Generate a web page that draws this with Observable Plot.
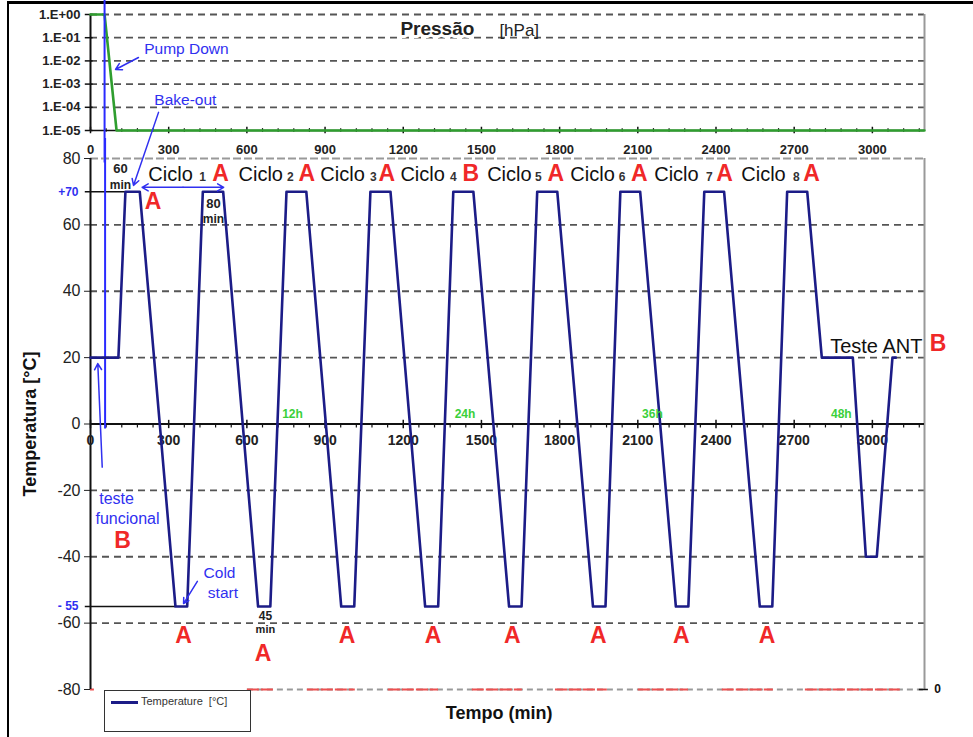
<!DOCTYPE html>
<html><head><meta charset="utf-8">
<script src="https://cdn.jsdelivr.net/npm/d3@7"></script>
<script src="https://cdn.jsdelivr.net/npm/@observablehq/plot@0.6"></script>
<style>
body{margin:0;background:#fff;font-family:"Liberation Sans",Arial,sans-serif;}
#wrap{position:relative;width:973px;height:737px;overflow:hidden;background:#fff;}
#frame{position:absolute;left:7px;top:1px;width:990px;height:780px;border-left:2px solid #000;border-top:3px solid #000;}
#legend{position:absolute;left:104px;top:690px;width:145px;height:40px;border:1.5px solid #333;background:#fff;}
#legend .ln{position:absolute;left:6px;top:10px;width:27px;height:2.5px;background:#1c1c87;}
#legend .tx{position:absolute;left:36px;top:4px;font-size:11px;color:#333;white-space:pre;}
</style></head><body>
<div id="wrap"><div id="frame"></div></div>
<script>
// ---------- data ----------
const tempTime  = [0,107,134,189,326,371,431,509,643,690,752,828,962,1012,1074,1151,1284,1334,1392,1469,1606,1654,1714,1791,1928,1976,2033,2109,2246,2294,2355,2431,2568,2616,2673,2750,2806,2925,2975,3017,3077,3090];
const tempValue = [20,20,70,70,-55,-55,70,70,-55,-55,70,70,-55,-55,70,70,-55,-55,70,70,-55,-55,70,70,-55,-55,70,70,-55,-55,70,70,-55,-55,70,70,20,20,-40,-40,20,20];
const pressTime  = [0,54,100,3200];
const pressValue = [1,1,1e-5,1e-5];
const xTickValues = [0,300,600,900,1200,1500,1800,2100,2400,2700,3000];
const tempTicks = [80,60,40,20,0,-20,-40,-60,-80];
const tempGrid = [60,40,20,-20,-40,-60];
const pressDecades = [1,0.1,0.01,0.001,0.0001,0.00001];
const pressLabels = ["1.E+00","1.E-01","1.E-02","1.E-03","1.E-04","1.E-05"];
const redStart = [0,602,832,1143,1465,1784,2102,2424,2743];
const redEnd   = [15,702,1016,1335,1657,1983,2294,2620,3107];
const cicloStartT = [222,568,882,1189,1522,1841,2163,2497];
const cicloNum = ["1","2","3","4","5","6","7","8"];
const cicloNumT = [430,767,1085,1392,1718,2040,2374,2708];
const cicloMark = ["A","A","A","B","A","A","A","A"];
const cicloMarkT = [499,830,1137,1459,1785,2106,2433,2767];
const coldMarkT = [357,662,984,1314,1618,1948,2267,2596];
const coldMarkY = [-63.7,-69.2,-63.7,-63.7,-63.7,-63.7,-63.7,-63.7];
const hourLabels = ["12h","24h","36h","48h"];
const hourT = [775,1437,2156,2881];

const FONT = '"Liberation Sans", Arial, sans-serif';
const NAVY = "#1c1c87", BLUE = "#3030f0", RED = "#f02828", GREEN = "#2f9e2f";
const minor = d3.range(0, 3201, 60).filter(d => d % 300 !== 0);

const tempData = tempTime.map((t,i) => ({t, v: tempValue[i]}));
const pressData = pressTime.map((t,i) => ({t, p: pressValue[i]}));
const redData = redStart.map((s,i) => ({s, e: redEnd[i]}));
const ciclo = cicloStartT.map((t,i) => ({t, n: cicloNum[i], nt: cicloNumT[i], m: cicloMark[i], mt: cicloMarkT[i]}));
const cold = coldMarkT.map((t,i) => ({t, y: coldMarkY[i]}));
const hours = hourLabels.map((h,i) => ({h, t: hourT[i]}));

// ---------- pressure panel ----------
const P = Plot.plot({
  width: 973, height: 160,
  marginTop: 14, marginBottom: 30, marginLeft: 90, marginRight: 49,
  x: {domain: [0, 3200], axis: null},
  y: {type: "log", domain: [1e-5, 1], axis: null},
  style: {fontFamily: FONT, background: "transparent", overflow: "visible", color: "#222"},
  marks: [
    Plot.ruleY(pressDecades.slice(0,5), {x1: 0, x2: 3200, stroke: "#555", strokeWidth: 1.8, strokeDasharray: "7,5"}),
    Plot.ruleX([3200], {y1: 1e-5, y2: 1, stroke: "#999", strokeWidth: 2}),
    Plot.ruleX([0], {y1: 1e-5, y2: 1, stroke: "#111", strokeWidth: 2}),
    Plot.ruleY(pressDecades, {x1: -20, x2: 10, stroke: "#111", strokeWidth: 1.5}),
    Plot.text(pressDecades, {x: 0, y: d => d, dx: -10, textAnchor: "end", text: (d,i) => pressLabels[i], fontSize: 13, fontWeight: "bold", fill: "#222"}),
    Plot.ruleY([1e-5], {x1: 0, x2: 3200, stroke: "#111", strokeWidth: 1.5}),
    Plot.ruleX(xTickValues, {y1: 1e-5 * Math.pow(10,-0.14), y2: 1e-5 * Math.pow(10,0.14), stroke: "#111", strokeWidth: 1.5}),
    Plot.ruleX(minor, {y1: 1e-5 * Math.pow(10,-0.08), y2: 1e-5 * Math.pow(10,0.08), stroke: "#111", strokeWidth: 1.2}),
    Plot.line(pressData, {x: "t", y: "p", stroke: GREEN, strokeWidth: 2.6}),
    Plot.ruleX([54], {y1: Math.pow(10,-6.4), y2: Math.pow(10,0.7), stroke: "#2a2aff", strokeWidth: 2}),
    Plot.text(xTickValues, {x: d => d, y: 1e-5, dy: 19, text: d => String(d), fontSize: 13, fontWeight: "bold", fill: "#222"}),
    Plot.text(["Pump Down"], {x: 368, y: 0.031, text: d => d, fontSize: 15.5, fill: BLUE}),
    Plot.arrow([0], {x1: 184, y1: 0.01403, x2: 96, y2: 0.004256, stroke: BLUE, strokeWidth: 1.5, headLength: 7}),
    Plot.text(["Bake-out"], {x: 364, y: 1.96e-4, text: d => d, fontSize: 15.5, fill: BLUE}),
    Plot.text(["Pressão"], {x: 1331, y: 0.249, text: d => d, fontSize: 19, fontWeight: "bold", fill: "#222", stroke: "white", strokeWidth: 6, paintOrder: "stroke"}),
    Plot.text(["[hPa]"], {x: 1645, y: 0.204, text: d => d, fontSize: 17, fill: "#222"})
  ]
});

// ---------- temperature panel ----------
const T = Plot.plot({
  width: 973, height: 597,
  marginTop: 18, marginBottom: 48, marginLeft: 90, marginRight: 49,
  x: {domain: [0, 3200], axis: null},
  y: {domain: [-80, 80], ticks: tempTicks, tickSize: 6, tickPadding: 4, label: null, tickFormat: d => String(d)},
  style: {fontFamily: FONT, fontSize: "16px", background: "transparent", overflow: "visible", color: "#222"},
  marks: [
    Plot.ruleY(tempGrid, {x1: 0, x2: 3200, stroke: "#555", strokeWidth: 1.8, strokeDasharray: "7,5"}),
    Plot.ruleY([80], {x1: 0, x2: 3200, stroke: "#999", strokeWidth: 2, strokeDasharray: "8,3"}),
    Plot.ruleY([-80], {x1: 602, x2: 3200, stroke: "#999", strokeWidth: 2, strokeDasharray: "6,4"}),
    Plot.ruleY(redData, {y: -80, x1: "s", x2: "e", stroke: "#ee5050", strokeWidth: 2, strokeDasharray: "12,2"}),
    Plot.ruleX([0], {y1: -80, y2: 80, stroke: "#111", strokeWidth: 2}),
    Plot.ruleX([3200], {y1: -80, y2: 80, stroke: "#999", strokeWidth: 2}),
    Plot.ruleY([0], {x1: 0, x2: 3200, stroke: "#111", strokeWidth: 2}),
    Plot.ruleX(xTickValues, {y1: -1.4, y2: 1.1, stroke: "#111", strokeWidth: 1.5}),
    Plot.ruleX(minor, {y1: -1.2, y2: 0, stroke: "#111", strokeWidth: 1.2}),
    Plot.text(xTickValues, {x: d => d, y: 0, dy: 17, text: d => String(d), fontSize: 14, fontWeight: "bold", fill: "#222"}),
    Plot.ruleY([70], {x1: -20, x2: 134, stroke: "#111", strokeWidth: 1.5}),
    Plot.ruleY([-55], {x1: -20, x2: 326, stroke: "#111", strokeWidth: 1.5}),
    Plot.text(["+70"], {x: 0, y: 70, dx: -12, textAnchor: "end", text: d => d, fontSize: 12, fontWeight: "bold", fill: BLUE}),
    Plot.text(["- 55"], {x: 0, y: -55, dx: -12, textAnchor: "end", text: d => d, fontSize: 12, fontWeight: "bold", fill: BLUE}),
    Plot.ruleX([56], {y1: -1.5, y2: 86, stroke: "#2a2aff", strokeWidth: 2}),
    Plot.arrow([0], {x1: 45, y1: -13, x2: 28, y2: 18.2, stroke: BLUE, strokeWidth: 1.5, headLength: 7}),
    Plot.line(tempData, {x: "t", y: "v", stroke: NAVY, strokeWidth: 2.6}),
    Plot.arrow([0], {x1: 261, y1: 93.9, x2: 165, y2: 71.9, stroke: BLUE, strokeWidth: 1.5, headLength: 7}),
    Plot.arrow([0], {x1: 355, y1: 71.3, x2: 198, y2: 71.3, stroke: BLUE, strokeWidth: 1.5, headLength: 7}),
    Plot.arrow([0], {x1: 355, y1: 71.3, x2: 511, y2: 71.3, stroke: BLUE, strokeWidth: 1.5, headLength: 7}),
    Plot.arrow([0], {x1: 410, y1: -47.4, x2: 357, y2: -54.1, stroke: BLUE, strokeWidth: 1.5, headLength: 6}),
    // Ciclo labels
    Plot.text(ciclo, {x: "t", y: 75.2, text: () => "Ciclo", textAnchor: "start", fontSize: 20, fill: "#111"}),
    Plot.text(ciclo, {x: "nt", y: 74.3, text: "n", fontSize: 12, fontWeight: "bold", fill: "#333"}),
    Plot.text(ciclo, {x: "mt", y: 75.4, text: "m", fontSize: 23, fontWeight: "bold", fill: RED}),
    Plot.text(["A"], {x: 240, y: 67, text: d => d, fontSize: 23, fontWeight: "bold", fill: RED}),
    Plot.text(cold, {x: "t", y: "y", text: () => "A", fontSize: 23, fontWeight: "bold", fill: RED}),
    Plot.text(["Teste ANT"], {x: 2838, y: 23.4, text: d => d, textAnchor: "start", fontSize: 20, fill: "#111"}),
    Plot.text(["B"], {x: 3252, y: 24.3, text: d => d, fontSize: 23, fontWeight: "bold", fill: RED}),
    Plot.text(["60"], {x: 115, y: 77, text: d => d, fontSize: 13, fontWeight: "bold", fill: "#222"}),
    Plot.text(["min"], {x: 115, y: 71.9, text: d => d, fontSize: 12, fontWeight: "bold", fill: "#222"}),
    Plot.text(["80"], {x: 472, y: 66.4, text: d => d, fontSize: 13, fontWeight: "bold", fill: "#222"}),
    Plot.text(["min"], {x: 472, y: 61.6, text: d => d, fontSize: 12, fontWeight: "bold", fill: "#222"}),
    Plot.text(["45"], {x: 671, y: -57.8, text: d => d, fontSize: 12, fontWeight: "bold", fill: "#222"}),
    Plot.text(["min"], {x: 671, y: -62, text: d => d, fontSize: 11, fontWeight: "bold", fill: "#222"}),
    Plot.text(["teste"], {x: 100, y: -22.7, text: d => d, fontSize: 16, fill: BLUE}),
    Plot.text(["funcional"], {x: 142, y: -28.5, text: d => d, fontSize: 16, fill: BLUE}),
    Plot.text(["B"], {x: 123, y: -35.1, text: d => d, fontSize: 23, fontWeight: "bold", fill: RED}),
    Plot.text(["Cold"], {x: 495, y: -45, text: d => d, fontSize: 15.5, fill: BLUE}),
    Plot.text(["start"], {x: 508, y: -50.8, text: d => d, fontSize: 15.5, fill: BLUE}),
    Plot.text(hours, {x: "t", y: 2.9, text: "h", fontSize: 12, fontWeight: "bold", fill: "#3ad03a"}),
    Plot.text(["Temperatura [°C]"], {x: 0, y: 0, dx: -60, rotate: -90, text: d => d, fontSize: 18, fontWeight: "bold", fill: "#111"}),
    Plot.text(["Tempo (min)"], {x: 1568, y: -80, dy: 24, text: d => d, fontSize: 18, fontWeight: "bold", fill: "#111"}),
    Plot.text(["0"], {x: 3200, y: -80, dx: 13, text: d => d, fontSize: 12, fontWeight: "bold", fill: "#111"}),
    Plot.ruleY([-80], {x1: 3180, x2: 3215, stroke: "#111", strokeWidth: 1.5})
  ]
});

const wrap = document.getElementById("wrap");
P.style.position = "absolute"; P.style.left = "0px"; P.style.top = "0px";
T.style.position = "absolute"; T.style.left = "0px"; T.style.top = "140px";
wrap.appendChild(P);
wrap.appendChild(T);
const leg = document.createElement("div");
leg.id = "legend";
leg.innerHTML = '<div class="ln"></div><div class="tx">Temperature  [°C]</div>';
wrap.appendChild(leg);
</script>
</body></html>
